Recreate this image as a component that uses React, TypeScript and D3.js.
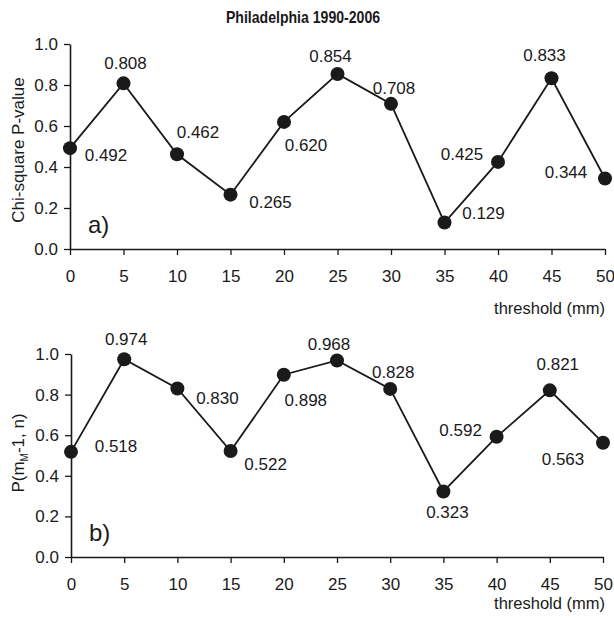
import React, { useEffect, useRef } from "react";
import * as d3 from "d3";

const thresholds = [0, 5, 10, 15, 20, 25, 30, 35, 40, 45, 50];
const chiSquareP = [0.492, 0.808, 0.462, 0.265, 0.62, 0.854, 0.708, 0.129, 0.425, 0.833, 0.344];
const pmValues = [0.518, 0.974, 0.83, 0.522, 0.898, 0.968, 0.828, 0.323, 0.592, 0.821, 0.563];
const yTicks = [0, 0.2, 0.4, 0.6, 0.8, 1.0];

// label offsets (centre of text relative to the dot), per point
const offsetsA = [[36, 7], [2, -20], [21, -22], [40, 7], [22, 23], [-7, -18], [3, -16], [39, -10], [-36, -8], [-7, -23], [-39, -6]];
const offsetsB = [[45, -6], [2, -20], [40, 10], [35, 13], [22, 25], [-8, -16], [3, -17], [4, 21], [-36, -7], [8, -26], [-40, 16]];

const FONT = "'Liberation Sans', Arial, Helvetica, sans-serif";
const INK = "#1a1a1a";

function App() {
    const chart = useRef(null);

    useEffect(() => {
        const svg = d3.select(chart.current)
            .attr("width", 614)
            .attr("height", 621);

        svg.append("text")
            .attr("transform", "translate(303,23) scale(0.88,1)")
            .attr("text-anchor", "middle")
            .attr("font-family", FONT)
            .attr("font-weight", "bold")
            .attr("font-size", 16)
            .attr("fill", INK)
            .text("Philadelphia 1990-2006");

        // draws one panel
        const panel = (values, offsets, x0, x1, yBottom, yTop, letter, xTitleY) => {
            const x = d3.scaleLinear().domain([0, 50]).range([x0, x1]);
            const y = d3.scaleLinear().domain([0, 1]).range([yBottom, yTop]);
            const g = svg.append("g");

            const yAxis = d3.axisLeft(y)
                .tickValues(yTicks)
                .tickFormat(d3.format(".1f"))
                .tickSize(6)
                .tickPadding(6)
                .tickSizeOuter(0);
            const ya = g.append("g")
                .attr("transform", "translate(" + x0 + ",0)")
                .call(yAxis);

            const xAxis = d3.axisBottom(x)
                .tickValues(thresholds)
                .tickSize(6)
                .tickSizeOuter(0)
                .tickPadding(15);
            const xa = g.append("g")
                .attr("transform", "translate(0," + yBottom + ")")
                .call(xAxis);

            [ya, xa].forEach(a => {
                a.select(".domain").attr("stroke", INK).attr("stroke-width", 1.6);
                a.selectAll(".tick line").attr("stroke", INK).attr("stroke-width", 1.3);
                a.selectAll(".tick text")
                    .attr("font-family", FONT)
                    .attr("font-size", 17)
                    .attr("fill", INK);
            });

            const line = d3.line()
                .x((d, i) => x(thresholds[i]))
                .y(d => y(d));

            g.append("path")
                .datum(values)
                .attr("d", line)
                .attr("fill", "none")
                .attr("stroke", INK)
                .attr("stroke-width", 1.8);

            g.selectAll(".dot")
                .data(values)
                .enter()
                .append("circle")
                    .attr("class", "dot")
                    .attr("cx", (d, i) => x(thresholds[i]))
                    .attr("cy", d => y(d))
                    .attr("r", 7)
                    .attr("fill", INK);

            g.selectAll(".vlabel")
                .data(values)
                .enter()
                .append("text")
                    .attr("class", "vlabel")
                    .attr("x", (d, i) => x(thresholds[i]) + offsets[i][0])
                    .attr("y", (d, i) => y(d) + offsets[i][1])
                    .attr("dy", "0.35em")
                    .attr("text-anchor", "middle")
                    .attr("font-family", FONT)
                    .attr("font-size", 17)
                    .attr("fill", INK)
                    .text(d => d3.format(".3f")(d));

            g.append("text")
                .attr("x", x0 + 18)
                .attr("y", y(0.12))
                .attr("dy", "0.35em")
                .attr("font-family", FONT)
                .attr("font-size", 24)
                .attr("fill", INK)
                .text(letter);

            g.append("text")
                .attr("x", 605)
                .attr("y", xTitleY)
                .attr("text-anchor", "end")
                .attr("font-family", FONT)
                .attr("font-size", 16.5)
                .attr("fill", INK)
                .text("threshold (mm)");
            return { x, y };
        };

        panel(chiSquareP, offsetsA, 70, 605, 249, 44, "a)", 314);
        panel(pmValues, offsetsB, 71, 603, 557, 354, "b)", 609);

        svg.append("text")
            .attr("transform", "translate(24,150) rotate(-90)")
            .attr("text-anchor", "middle")
            .attr("font-family", FONT)
            .attr("font-size", 17)
            .attr("fill", INK)
            .text("Chi-square P-value");

        const pl = svg.append("text")
            .attr("transform", "translate(24,453) rotate(-90)")
            .attr("text-anchor", "middle")
            .attr("font-family", FONT)
            .attr("font-size", 17)
            .attr("fill", INK);
        pl.append("tspan").text("P(m");
        pl.append("tspan").attr("font-size", 10).attr("dy", 4).text("M");
        pl.append("tspan").attr("dy", -4).text("-1, n)");

        return () => {
            svg.selectAll("*").remove();
        };
    }, []);

    return (
        <svg ref={chart} style={{ position: "absolute", left: 0, top: 0, background: "#fff" }}></svg>
    );
}

export default App;
